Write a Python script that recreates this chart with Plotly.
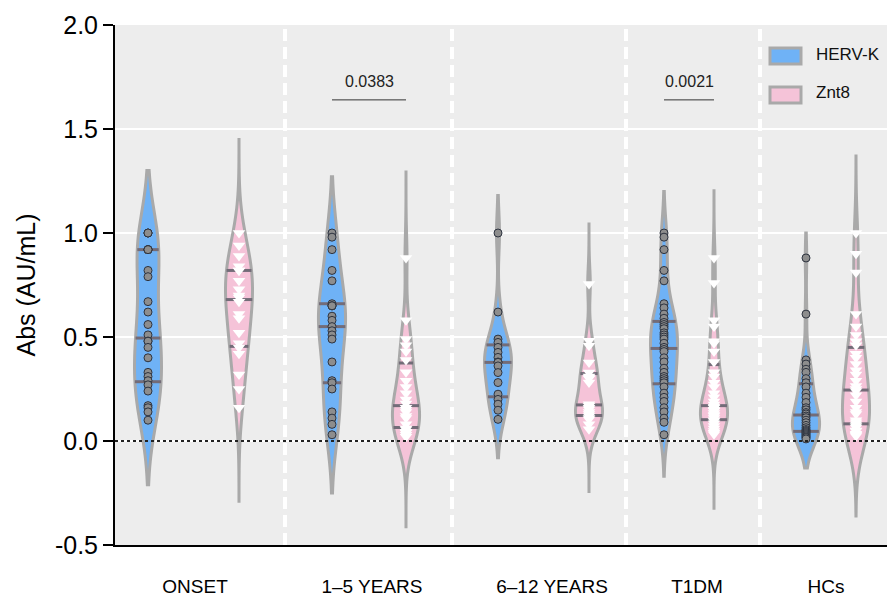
import numpy as np
import plotly.graph_objects as go

# ---------------- data ----------------
groups = ["ONSET", "1\u20135 YEARS", "6\u201312 YEARS", "T1DM", "HCs"]
series_names = ["HERV-K", "Znt8"]

herv_onset = [1.00, 1.00, 1.00, 0.92, 0.92, 0.92, 0.92, 0.82, 0.79, 0.67, 0.62, 0.56, 0.51,
              0.48, 0.48, 0.45, 0.40, 0.33, 0.31, 0.29, 0.27, 0.24, 0.17, 0.16, 0.14, 0.10]
herv_1_5 = [1.00, 0.98, 0.92, 0.82, 0.77, 0.66, 0.65, 0.65, 0.65, 0.60, 0.58, 0.55, 0.53,
            0.51, 0.49, 0.38, 0.29, 0.28, 0.25, 0.14, 0.11, 0.08, 0.03]
herv_6_12 = [1.00, 0.62, 0.49, 0.474, 0.45, 0.426, 0.402, 0.38, 0.378, 0.361, 0.329, 0.281,
             0.225, 0.20, 0.177, 0.148, 0.104]
herv_t1dm = [1.00, 0.98, 0.92, 0.82, 0.77, 0.66, 0.64, 0.61, 0.59, 0.57, 0.56, 0.55, 0.54,
             0.52, 0.51, 0.50, 0.49, 0.47, 0.45, 0.44, 0.43, 0.40, 0.38, 0.35, 0.33, 0.31,
             0.30, 0.29, 0.28, 0.26, 0.23, 0.21, 0.19, 0.16, 0.14, 0.11, 0.09, 0.03]
herv_hcs = [0.88, 0.61, 0.39, 0.37, 0.345, 0.33, 0.30, 0.28, 0.26, 0.23, 0.21, 0.185, 0.16,
            0.15, 0.137, 0.13, 0.12, 0.112, 0.10, 0.088, 0.075, 0.064, 0.055, 0.05, 0.045,
            0.04, 0.035, 0.03, 0.025, 0.02, 0.016, 0.01]

znt8_onset = [1.00, 0.94, 0.89, 0.84, 0.82, 0.82, 0.77, 0.73, 0.70, 0.69, 0.67, 0.61, 0.59,
              0.52, 0.47, 0.45, 0.42, 0.32, 0.25, 0.16]
znt8_1_5 = [0.88, 0.58, 0.49, 0.46, 0.43, 0.39, 0.33, 0.29, 0.26, 0.23, 0.20, 0.18, 0.16,
            0.15, 0.14, 0.12, 0.11, 0.08, 0.06, 0.056, 0.045, 0.04, 0.03, 0.02]
znt8_6_12 = [0.755, 0.482, 0.458, 0.378, 0.329, 0.31, 0.305, 0.30, 0.281, 0.177, 0.17, 0.16,
             0.153, 0.14, 0.13, 0.12, 0.11, 0.104, 0.08, 0.056]
znt8_t1dm = [0.88, 0.76, 0.58, 0.55, 0.48, 0.47, 0.43, 0.38, 0.33, 0.31, 0.28, 0.26, 0.23,
             0.21, 0.19, 0.175, 0.165, 0.16, 0.15, 0.145, 0.135, 0.125, 0.12, 0.11, 0.10,
             0.096, 0.085, 0.072, 0.06, 0.048, 0.04, 0.032]
znt8_hcs = [1.00, 0.90, 0.81, 0.61, 0.55, 0.51, 0.48, 0.46, 0.42, 0.40, 0.37, 0.34, 0.32,
            0.29, 0.265, 0.25, 0.24, 0.22, 0.19, 0.16, 0.14, 0.13, 0.10, 0.09, 0.08, 0.072,
            0.065, 0.05, 0.048, 0.035, 0.03, 0.024]

herv_k = [herv_onset, herv_1_5, herv_6_12, herv_t1dm, herv_hcs]
znt8 = [znt8_onset, znt8_1_5, znt8_6_12, znt8_t1dm, znt8_hcs]

p_values = ["0.0383", "0.0021"]
p_group_index = [1, 3]

y_tick_vals = [-0.5, 0.0, 0.5, 1.0, 1.5, 2.0]
y_tick_text = ["-0.5", "0.0", "0.5", "1.0", "1.5", "2.0"]

# ---------------- layout / style ----------------
X_RANGE = [0, 772]
herv_pos = [33, 217, 383, 549, 691]
znt8_pos = [124, 291, 474, 599, 741]
label_pos = [80, 257, 437, 582, 711]
separator_pos = [170, 337, 511, 645]
herv_span = [(-0.21, 1.30), (-0.25, 1.27), (-0.08, 1.18), (-0.17, 1.20), (-0.13, 1.00)]
znt8_span = [(-0.29, 1.45), (-0.42, 1.30), (-0.25, 1.05), (-0.33, 1.21), (-0.36, 1.37)]
VIOLIN_W = 27
SIG_LINE_Y = 1.64
SIG_TEXT_Y = 1.73

BLUE = "#6fb2f6"
PINK = "#f5c3d8"
OUTLINE = "#a9a9a9"
QLINE = "#736c78"
FONT = "Arial, Liberation Sans, sans-serif"


def silverman(vals):
    v = np.asarray(vals, float)
    sd = v.std(ddof=1)
    q1, q3 = np.percentile(v, [25, 75])
    a = min(sd, (q3 - q1) / 1.349) if q3 > q1 else sd
    return 1.059 * a * len(v) ** -0.2


def kde(vals, bw, t):
    v = np.asarray(vals, float)
    z = (np.atleast_1d(t)[:, None] - v[None, :]) / bw
    return np.exp(-0.5 * z * z).sum(axis=1) / (len(v) * bw * np.sqrt(2 * np.pi))


def max_kde(vals, bw, span):
    dist = span[1] - span[0]
    n = int(np.ceil(dist / (bw / 3)))
    step = dist / n
    t = span[0] + step * np.arange(n + 1)
    return kde(vals, bw, t).max()


fig = go.Figure()

point_traces = []
line_traces = []
for si, (series, positions, spans, fill) in enumerate(
        [(herv_k, herv_pos, herv_span, BLUE), (znt8, znt8_pos, znt8_span, PINK)]):
    for gi, vals in enumerate(series):
        pos = positions[gi]
        bw = silverman(vals)
        span = spans[gi]
        fig.add_trace(go.Violin(
            x=[pos] * len(vals), y=vals, name=series_names[si],
            width=VIOLIN_W, scalemode="width", side="both",
            spanmode="manual", span=list(span), bandwidth=bw,
            points=False, box_visible=False, meanline_visible=False,
            fillcolor=fill, line=dict(color=OUTLINE, width=3),
            opacity=1, showlegend=False, hoverinfo="skip",
        ))
        # quartile lines
        qs = np.percentile(vals, [25, 50, 75], method="weibull")
        mk = max_kde(vals, bw, span)
        hw = VIOLIN_W / 2 * kde(vals, bw, qs) / mk
        xs, ys = [], []
        for q, h in zip(qs, hw):
            xs += [pos - h, pos + h, None]
            ys += [q, q, None]
        line_traces.append(go.Scatter(x=xs, y=ys, mode="lines",
                                      line=dict(color=QLINE, width=3),
                                      showlegend=False, hoverinfo="skip"))
        if si == 0:
            marker = dict(symbol="circle", size=8, color="#8d8d8d",
                          line=dict(color="#2e3440", width=1))
        else:
            marker = dict(symbol="triangle-down", size=11, color="white",
                          line=dict(width=0))
        point_traces.append(go.Scatter(x=[pos] * len(vals), y=vals, mode="markers",
                                       marker=marker, showlegend=False, hoverinfo="skip"))

for tr in line_traces + point_traces:
    fig.add_trace(tr)

shapes = []
for sx in separator_pos:
    shapes.append(dict(type="line", xref="x", yref="paper", x0=sx, x1=sx, y0=0, y1=1,
                       line=dict(color="white", width=4, dash="12px,6px"), layer="below"))
shapes.append(dict(type="line", xref="paper", yref="y", x0=0, x1=1, y0=0, y1=0,
                   line=dict(color="#222222", width=2, dash="dot"), layer="above"))

annotations = []
for txt, gi in zip(p_values, p_group_index):
    x0, x1 = herv_pos[gi], znt8_pos[gi]
    shapes.append(dict(type="line", xref="x", yref="y", x0=x0, x1=x1,
                       y0=SIG_LINE_Y, y1=SIG_LINE_Y, line=dict(color="#333333", width=1)))
    annotations.append(dict(x=(x0 + x1) / 2, y=SIG_TEXT_Y, xref="x", yref="y", text=txt,
                            showarrow=False, font=dict(size=16, color="#222222")))

# legend drawn as boxes + labels (pixel-based placement inside the plot area)
def px_x(px):
    return (px - 115) / 772


def px_y(py):
    return (545 - py) / 520


for name, fill, cy in [("HERV-K", BLUE, 56), ("Znt8", PINK, 95)]:
    shapes.append(dict(type="rect", xref="paper", yref="paper",
                       x0=px_x(770), x1=px_x(801), y0=px_y(cy + 8), y1=px_y(cy - 8),
                       fillcolor=fill, line=dict(color=OUTLINE, width=3)))
    annotations.append(dict(x=px_x(814), y=px_y(cy - 2), xref="paper", yref="paper",
                            text=name, showarrow=False, xanchor="left", yanchor="middle",
                            font=dict(size=17, color="#111111")))

fig.update_layout(
    width=887, height=599,
    margin=dict(l=115, r=0, t=25, b=54, autoexpand=False),
    paper_bgcolor="white", plot_bgcolor="#ededed",
    violinmode="overlay", showlegend=False,
    font=dict(family=FONT, color="black"),
    shapes=shapes, annotations=annotations,
)
fig.update_xaxes(range=X_RANGE, tickvals=label_pos, ticktext=groups, automargin=False,
                 showline=True, linecolor="black", linewidth=2, ticks="",
                 showgrid=False, zeroline=False, tickfont=dict(size=19),
                 ticklabelstandoff=23)
fig.update_yaxes(range=[-0.5, 2.0], tickvals=y_tick_vals, ticktext=y_tick_text,
                 automargin=False,
                 showline=True, linecolor="black", linewidth=2, ticks="outside",
                 ticklen=10, tickwidth=2, tickcolor="black",
                 showgrid=True, gridcolor="white", gridwidth=2, zeroline=False,
                 tickfont=dict(size=25),
                 title=dict(text="Abs (AU/mL)", font=dict(size=25), standoff=12))

fig.write_html("out.html",
               config={"displayModeBar": False},
               post_script="document.body.style.margin='0px';"
                           "document.body.style.overflow='hidden';")
